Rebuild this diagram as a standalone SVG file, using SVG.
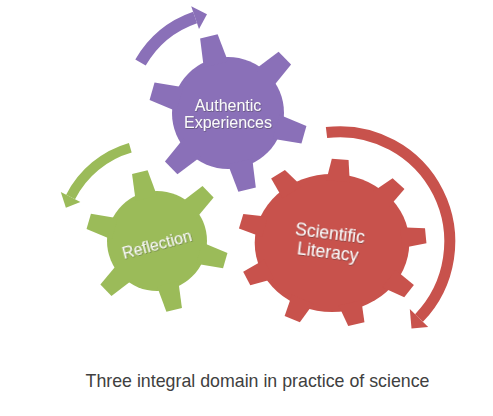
<svg xmlns="http://www.w3.org/2000/svg" xmlns:xlink="http://www.w3.org/1999/xlink" width="493" height="416" viewBox="0 0 493 416">
<defs>
<style>
.lbl{font-family:"Liberation Sans",Arial,sans-serif;font-size:16px;fill:#fafafa;text-anchor:middle;filter:url(#sh)}
.cap{font-family:"Liberation Sans",Arial,sans-serif;font-size:17.8px;fill:#404040;text-anchor:middle}
.p{fill:#8a70b8}.g{fill:#9bbb59}.r{fill:#c8524c}
.arc{fill:none;stroke-linecap:butt}
</style>
<filter id="sh" x="-10%" y="-30%" width="130%" height="170%"><feDropShadow dx="0.6" dy="0.8" stdDeviation="0.6" flood-color="#333" flood-opacity="0.5"/></filter>
<polygon id="tp" points="-12.5,-50 12.5,-50 9,-79 -9,-79"/>
<polygon id="tg" points="-11,-44 11,-44 8,-71 -8,-71"/>
<polygon id="tr" points="-10.5,-62 10.5,-62 7.5,-84 -7.5,-84"/>
</defs>
<rect width="493" height="416" fill="#ffffff"/>

<g id="connectors">
<path class="arc" d="M140.5,62.5 A101 101 0 0 1 195.1,17.5" stroke="#8a70b8" stroke-width="12"/>
<polygon class="p" points="191.2,6.2 207,14.2 199,28.9"/>
<path class="arc" d="M130.3,147.8 A97 97 0 0 0 70.6,197" stroke="#9bbb59" stroke-width="10"/>
<polygon class="g" points="60.8,192 65.9,207.8 80.4,202"/>
<path class="arc" d="M326.5,132.5 A110 110 0 0 1 419,318" stroke="#c8524c" stroke-width="11"/>
<polygon class="r" points="409.8,308.9 428.2,327.1 411.5,328.5"/>
</g>

<g id="gear-scientific-literacy" class="r">
<g transform="translate(332,243) scale(1.12,1)">
<circle r="69"/>
<use xlink:href="#tr" transform="rotate(5)"/>
<use xlink:href="#tr" transform="rotate(45)"/>
<use xlink:href="#tr" transform="rotate(85)"/>
<use xlink:href="#tr" transform="rotate(125)"/>
<use xlink:href="#tr" transform="rotate(165)"/>
<use xlink:href="#tr" transform="rotate(205)"/>
<use xlink:href="#tr" transform="rotate(245)"/>
<use xlink:href="#tr" transform="rotate(285)"/>
<use xlink:href="#tr" transform="rotate(325)"/>
</g>
<g transform="rotate(7 329 242)">
<text class="lbl" x="329" y="238.5" style="font-size:17.5px">Scientific</text>
<text class="lbl" x="329" y="257.5" style="font-size:17.5px">Literacy</text>
</g>
</g>

<g id="gear-reflection" class="g">
<g transform="translate(157,241)">
<circle r="50"/>
<use xlink:href="#tg" transform="rotate(-14)"/>
<use xlink:href="#tg" transform="rotate(46)"/>
<use xlink:href="#tg" transform="rotate(106)"/>
<use xlink:href="#tg" transform="rotate(166)"/>
<use xlink:href="#tg" transform="rotate(226)"/>
<use xlink:href="#tg" transform="rotate(286)"/>
</g>
<text class="lbl" x="157" y="250.5" transform="rotate(-15 157 245)">Reflection</text>
</g>

<g id="gear-authentic-experiences" class="p">
<g transform="translate(228,113)">
<circle r="56"/>
<use xlink:href="#tp" transform="rotate(-14)"/>
<use xlink:href="#tp" transform="rotate(46)"/>
<use xlink:href="#tp" transform="rotate(106)"/>
<use xlink:href="#tp" transform="rotate(166)"/>
<use xlink:href="#tp" transform="rotate(226)"/>
<use xlink:href="#tp" transform="rotate(286)"/>
</g>
<text class="lbl" x="228" y="110.5">Authentic</text>
<text class="lbl" x="228" y="127.5">Experiences</text>
</g>

<text class="cap" x="257.5" y="387">Three integral domain in practice of science</text>
</svg>
